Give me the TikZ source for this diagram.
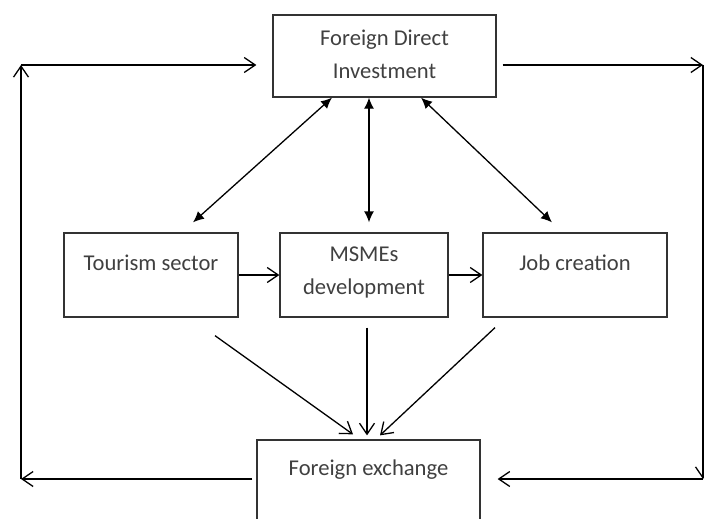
\documentclass[tikz,border=0pt]{standalone}
\usepackage{fontspec}
\setmainfont{Carlito}
\usetikzlibrary{arrows.meta}

\tikzset{
        box/.style={draw=black!80, line width=1.3pt, inner sep=0pt, align=center,
                text=black!75, font=\fontsize{22.6}{33}\selectfont},
        flow/.style={line width=1.3pt, -{Straight Barb[length=11pt,width=15pt]}},
        link/.style={line width=1.3pt, {Latex[length=11pt,width=10pt]}-{Latex[length=11pt,width=10pt]}}
}

\begin{document}
\begin{tikzpicture}[x=1pt, y=-1pt]
        \useasboundingbox (0, 0) rectangle (704, 519);

        \node[box, minimum width=223pt, text height=63pt, text depth=19pt] (fdi) at (384.5, 56) {Foreign Direct\\Investment};
        \node[box, minimum width=174pt, text height=37pt, text depth=47pt] (tourism) at (151, 275) {Tourism sector};
        \node[box, minimum width=168pt, text height=61pt, text depth=23pt] (msme) at (364, 275) {MSMEs\\development};
        \node[box, minimum width=184pt, text height=37pt, text depth=47pt] (job) at (575, 275) {Job creation};
        \node[box, minimum width=223pt, text height=35pt, text depth=47pt] (fx) at (368.5, 481) {Foreign exchange};

        \draw [flow] (tourism.east) -- (msme.west);
        \draw [flow] (msme.east) -- (job.west);

        \draw [link] ([xshift=-52.5pt]fdi.south) -- ([xshift=42pt,yshift=10pt]tourism.north);
        \draw [link] ([xshift=-15.5pt]fdi.south) -- ([xshift=5pt,yshift=10pt]msme.north);
        \draw [link] ([xshift=36.5pt]fdi.south) -- ([xshift=-23pt,yshift=10pt]job.north);

        \draw [flow] ([xshift=64pt,yshift=-18pt]tourism.south) -- ([xshift=-15.5pt,yshift=5pt]fx.north);
        \draw [flow] ([xshift=3pt,yshift=-10pt]msme.south) -- ([xshift=-1.5pt,yshift=4pt]fx.north);
        \draw [flow] ([xshift=-80pt,yshift=-10pt]job.south) -- ([xshift=11.5pt,yshift=4pt]fx.north);

        \coordinate (lowleft) at (21, 479);
        \coordinate (upleft) at (21, 65);
        \coordinate (upright) at (703, 65);
        \coordinate (lowright) at (703, 479);

        \draw [flow] ([xshift=-4pt,yshift=2pt]fx.west) -- (lowleft);
        \draw [flow] (lowleft) -- (upleft);
        \draw [flow] (upleft) -- ([xshift=-16pt,yshift=-9pt]fdi.west);
        \draw [flow] ([xshift=6pt,yshift=-9pt]fdi.east) -- (upright);
        \draw [flow] (upright) -- (lowright);
        \draw [flow] (lowright) -- ([xshift=17pt,yshift=2pt]fx.east);
\end{tikzpicture}
\end{document}
